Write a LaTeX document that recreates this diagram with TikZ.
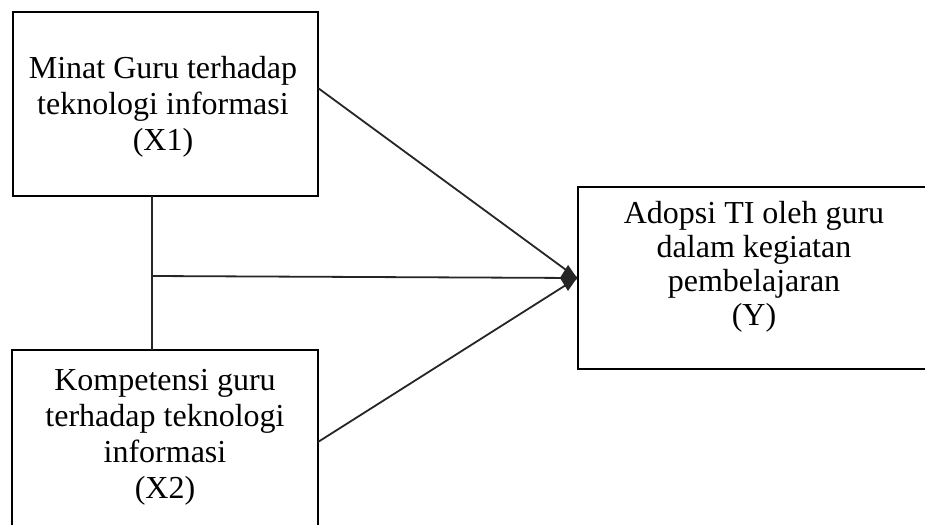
\documentclass[tikz,border=0pt]{standalone}
\usepackage{fontspec}
\setmainfont{Liberation Serif}
\usetikzlibrary{arrows.meta}
\begin{document}
\begin{tikzpicture}[x=1pt,y=-1pt,
  box/.style={draw=black,line width=2pt,inner sep=0pt},
  txt/.style={align=center,inner sep=0pt,font=\fontsize{32}{36}\selectfont},
  conn/.style={draw=black!85,line width=1.8pt}]
\useasboundingbox (0,0) rectangle (925,524);
\clip (0,0) rectangle (925,524);
\fill[white] (0,0) rectangle (925,524);
% boxes
\node[box,minimum width=305pt,minimum height=184pt] (X1) at (165.5,104) {};
\node[box,minimum width=306pt,minimum height=200pt] (X2) at (165,450) {};
\node[box,minimum width=352pt,minimum height=182pt] (Y) at (754,278) {};
% texts
\node[txt] (X1t) at (163,107) {Minat Guru terhadap\\teknologi informasi\\(X1)};
\node[txt] (X2t) at (165,437) {Kompetensi guru\\terhadap teknologi\\informasi\\(X2)};
\node[txt,font=\fontsize{32}{34}\selectfont] (Yt) at (754,267) {Adopsi TI oleh guru\\dalam kegiatan\\pembelajaran\\(Y)};
% connectors
\coordinate (J1) at (152,196);
\coordinate (J2) at (152,350);
\coordinate (Jm) at (152,276);
\coordinate (A1) at (318,88);
\coordinate (A2) at (318,442);
\draw[conn] (J1) -- (J2);
\draw[conn] (A1) -- (Y.west);
\draw[conn] (A2) -- (Y.west);
\draw[conn,-{Kite[length=17pt,width=26pt,inset=8pt]}] (Jm) -- (Y.west);
\end{tikzpicture}
\end{document}
